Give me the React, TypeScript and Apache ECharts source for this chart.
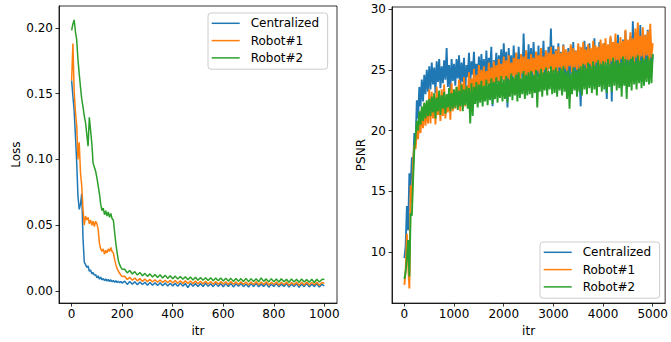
import React, { useEffect, useRef } from "react";
import * as echarts from "echarts";

function range(start: number, end: number, step: number): number[] {
  const a: number[] = [];
  for (let v = start; v <= end; v += step) a.push(v);
  return a;
}

// sampling grids (iteration numbers)
const lossItr = [...range(0, 200, 5), ...range(210, 1000, 10)];
const psnrItr = range(0, 5000, 25);

const seriesNames = ["Centralized", "Robot#1", "Robot#2"];
const colors = ["#1f77b4", "#ff7f0e", "#2ca02c"];

const lossTicks = [0, 0.05, 0.1, 0.15, 0.2];
const lossItrTicks = [0, 200, 400, 600, 800, 1000];
const psnrTicks = [10, 15, 20, 25, 30];
const psnrItrTicks = [0, 1000, 2000, 3000, 4000, 5000];

const lossCentralized = [
  0.160, 0.148, 0.137, 0.118, 0.098, 0.072, 0.062, 0.066, 0.074, 0.040,
  0.022, 0.020, 0.018, 0.019, 0.015, 0.016, 0.013, 0.014, 0.012, 0.0125,
  0.010, 0.0115, 0.0090, 0.0105, 0.0085, 0.0095, 0.0078, 0.0092, 0.0076, 0.0088,
  0.0072, 0.0085, 0.0070, 0.0080, 0.0066, 0.0078, 0.0064, 0.0075, 0.0062, 0.0072,
  0.0060,
  0.0075, 0.0050, 0.0072, 0.0052, 0.0070, 0.0047, 0.0068, 0.0049, 0.0066, 0.0044,
  0.0064, 0.0043, 0.0063, 0.0041, 0.0062, 0.0040, 0.0060, 0.0038, 0.0059, 0.0039,
  0.0058, 0.0036, 0.0060, 0.0037, 0.0057, 0.0026, 0.0058, 0.0036, 0.0056, 0.0035,
  0.0057, 0.0034, 0.0059, 0.0036, 0.0055, 0.0033, 0.0058, 0.0035, 0.0056, 0.0032,
  0.0056, 0.0034, 0.0058, 0.0031, 0.0055, 0.0036, 0.0057, 0.0033, 0.0054, 0.0030,
  0.0056, 0.0034, 0.0058, 0.0032, 0.0054, 0.0035, 0.0057, 0.0029, 0.0053, 0.0034,
  0.0057, 0.0032, 0.0054, 0.0035, 0.0056, 0.0030, 0.0053, 0.0034, 0.0055, 0.0028,
  0.0054, 0.0033, 0.0057, 0.0031, 0.0053, 0.0035, 0.0055, 0.0030, 0.0052, 0.0038,
];

const lossRobot1 = [
  0.160, 0.188, 0.152, 0.136, 0.126, 0.100, 0.113, 0.090, 0.080, 0.062,
  0.050, 0.057, 0.054, 0.056, 0.051, 0.054, 0.050, 0.053, 0.049, 0.053,
  0.051, 0.047, 0.036, 0.032, 0.030, 0.032, 0.028, 0.031, 0.029, 0.032,
  0.030, 0.033, 0.030, 0.029, 0.024, 0.020, 0.017, 0.015, 0.0135, 0.012,
  0.011,
  0.0112, 0.0088, 0.0104, 0.0082, 0.0099, 0.0077, 0.0094, 0.0073, 0.0091, 0.0071,
  0.0088, 0.0068, 0.0086, 0.0066, 0.0084, 0.0064, 0.0082, 0.0062, 0.0081, 0.0061,
  0.0080, 0.0059, 0.0078, 0.0058, 0.0077, 0.0057, 0.0076, 0.0056, 0.0075, 0.0055,
  0.0074, 0.0054, 0.0073, 0.0053, 0.0072, 0.0052, 0.0073, 0.0051, 0.0071, 0.0052,
  0.0070, 0.0050, 0.0072, 0.0051, 0.0069, 0.0049, 0.0071, 0.0050, 0.0068, 0.0048,
  0.0069, 0.0049, 0.0071, 0.0047, 0.0068, 0.0050, 0.0070, 0.0046, 0.0067, 0.0049,
  0.0069, 0.0045, 0.0066, 0.0048, 0.0068, 0.0044, 0.0065, 0.0047, 0.0067, 0.0043,
  0.0066, 0.0046, 0.0068, 0.0045, 0.0065, 0.0047, 0.0067, 0.0044, 0.0064, 0.0058,
];

const lossRobot2 = [
  0.198, 0.203, 0.206, 0.197, 0.191, 0.176, 0.165, 0.155, 0.146, 0.140,
  0.133, 0.128, 0.119, 0.110, 0.132, 0.122, 0.112, 0.097, 0.094, 0.091,
  0.086, 0.080, 0.074, 0.066, 0.061, 0.063, 0.058, 0.061, 0.057, 0.060,
  0.056, 0.059, 0.055, 0.054, 0.045, 0.036, 0.029, 0.023, 0.020, 0.018,
  0.0165,
  0.0165, 0.0138, 0.0156, 0.0129, 0.0147, 0.0121, 0.0140, 0.0116, 0.0134, 0.0111,
  0.0130, 0.0106, 0.0126, 0.0102, 0.0123, 0.0099, 0.0119, 0.0096, 0.0116, 0.0093,
  0.0113, 0.0091, 0.0110, 0.0089, 0.0108, 0.0086, 0.0106, 0.0084, 0.0104, 0.0082,
  0.0103, 0.0081, 0.0101, 0.0079, 0.0100, 0.0078, 0.0099, 0.0077, 0.0098, 0.0076,
  0.0097, 0.0075, 0.0096, 0.0073, 0.0095, 0.0074, 0.0094, 0.0072, 0.0096, 0.0071,
  0.0094, 0.0072, 0.0093, 0.0070, 0.0100, 0.0073, 0.0092, 0.0069, 0.0094, 0.0071,
  0.0091, 0.0068, 0.0093, 0.0070, 0.0090, 0.0067, 0.0092, 0.0069, 0.0089, 0.0066,
  0.0091, 0.0068, 0.0088, 0.0067, 0.0090, 0.0065, 0.0089, 0.0068, 0.0087, 0.0090,
];

const psnrCentralized = [
  9.5, 10.5, 13.8, 11.8, 16.5, 15.2, 17.8, 17.0, 19.8, 19.0,
  22.5, 21.0, 23.6, 22.0, 24.2, 22.4, 24.6, 23.0, 25.0, 23.2, 25.3,
  23.4, 25.6, 23.8, 25.2, 23.1, 25.7, 24.0, 25.9, 23.5, 25.3, 23.9, 25.8, 24.2, 26.8, 23.6, 25.4, 23.3, 25.9, 24.1, 25.5,
  23.7, 25.9, 24.3, 26.2, 23.5, 25.6, 24.0, 26.0, 23.2, 25.4, 24.4, 26.4, 23.8, 25.7, 24.6, 26.5, 23.9, 25.5, 24.2, 26.1,
  24.1, 26.3, 24.5, 25.9, 23.6, 26.6, 24.3, 26.0, 24.8, 26.9, 22.0, 25.8, 24.6, 26.4, 24.0, 26.2, 24.9, 26.7, 24.2, 27.2,
  24.4, 26.5, 21.9, 26.8, 24.6, 26.2, 24.0, 27.0, 24.8, 26.4, 23.9, 26.9, 25.0, 26.3, 24.3, 28.0, 24.7, 26.6, 24.1, 27.1,
  24.6, 26.8, 24.2, 27.3, 25.0, 26.5, 24.4, 27.0, 23.8, 26.7, 24.9, 27.4, 24.5, 26.6, 24.0, 26.9, 25.1, 28.4, 24.3, 27.0,
  24.8, 26.7, 24.1, 27.2, 24.6, 26.5, 23.9, 27.1, 24.4, 26.3, 23.5, 26.8, 24.0, 26.9, 24.6, 27.3, 23.8, 26.6, 24.2, 27.0,
  24.5, 22.0, 26.8, 24.3, 27.4, 24.8, 26.9, 23.9, 27.2, 24.6, 26.5, 25.0, 27.6, 24.2, 26.8, 24.7, 27.3, 23.8, 26.9, 24.5,
  27.2, 24.9, 22.6, 27.0, 24.4, 27.6, 22.4, 26.8, 25.1, 27.4, 24.6, 27.9, 25.0, 26.9, 24.3, 27.5, 24.8, 28.2, 25.2, 27.1,
  24.6, 27.8, 25.0, 29.0, 24.4, 28.1, 25.3, 27.6, 24.1, 28.7, 25.2, 27.4, 24.0, 27.9, 25.4, 28.3, 24.7, 27.6, 24.9, 26.3,
];

const psnrRobot1 = [
  7.3, 8.5, 11.5, 9.0, 7.0, 15.5, 14.0, 17.5, 18.8, 18.5,
  20.0, 19.3, 21.2, 19.8, 21.8, 20.2, 22.3, 20.4, 22.0, 20.6, 23.4,
  20.6, 23.2, 21.0, 22.8, 20.5, 23.6, 21.3, 22.9, 20.8, 23.4, 21.2, 23.8, 21.0, 22.7, 21.5, 23.5, 20.9, 23.9, 21.6, 23.3,
  21.8, 23.6, 22.1, 24.2, 21.6, 23.9, 22.4, 24.4, 22.0, 23.7, 22.7, 24.8, 22.5, 24.3, 23.0, 25.1, 22.8, 24.6, 23.3, 25.4,
  23.1, 25.0, 23.5, 25.3, 23.2, 24.9, 23.8, 25.6, 23.4, 25.2, 23.9, 25.7, 23.6, 25.4, 24.1, 25.9, 23.8, 25.5, 24.2, 26.1,
  24.0, 25.8, 24.3, 26.2, 23.9, 25.6, 24.5, 26.0, 24.2, 26.4, 24.6, 25.9, 24.1, 26.3, 24.7, 26.1, 24.3, 26.6, 24.5, 25.9,
  24.4, 26.3, 24.8, 26.0, 24.3, 26.5, 24.9, 26.2, 24.6, 26.8, 24.4, 26.1, 25.0, 26.6, 24.7, 26.4, 25.1, 26.9, 24.6, 26.3,
  24.9, 26.6, 24.7, 26.9, 25.2, 26.4, 24.8, 27.0, 25.1, 26.7, 24.9, 26.5, 25.3, 27.1, 24.8, 26.8, 25.2, 26.6, 25.0, 27.2,
  25.1, 26.9, 24.8, 27.3, 25.4, 26.7, 25.0, 27.1, 25.5, 26.8, 24.9, 27.4, 25.3, 27.0, 25.6, 26.9, 25.2, 27.5, 25.4, 27.2,
  25.3, 27.6, 25.6, 27.1, 25.2, 27.8, 25.7, 27.3, 25.4, 28.0, 25.8, 27.2, 25.5, 27.7, 25.9, 27.4, 25.6, 28.3, 25.8, 27.5,
  25.7, 28.1, 25.9, 27.6, 25.5, 28.4, 26.0, 28.9, 25.6, 27.8, 26.1, 28.5, 25.8, 27.9, 26.2, 28.2, 25.7, 28.8, 26.0, 27.2,
];

const psnrRobot2 = [
  7.8, 8.4, 9.5, 11.0, 8.0, 13.2, 13.0, 16.0, 18.5, 19.5,
  20.8, 20.0, 21.6, 20.5, 22.0, 20.8, 22.3, 21.0, 22.5, 21.2, 22.6,
  21.2, 22.8, 21.5, 23.1, 21.0, 22.7, 21.6, 23.3, 21.3, 22.9, 21.8, 23.2, 21.4, 23.0, 21.9, 23.5, 21.6, 23.1, 21.8, 23.4,
  21.9, 23.6, 21.7, 23.3, 22.0, 23.8, 21.6, 23.4, 22.1, 23.7, 21.8, 23.5, 20.6, 23.9, 21.2, 23.6, 22.2, 24.0, 21.9, 23.8,
  22.3, 24.1, 22.0, 23.7, 22.4, 24.2, 22.1, 23.9, 22.5, 24.3, 22.2, 24.0, 22.6, 24.4, 22.3, 24.1, 22.7, 24.5, 22.4, 24.2,
  22.6, 24.5, 22.3, 24.2, 22.8, 24.7, 22.5, 24.4, 22.9, 24.6, 22.4, 24.8, 22.7, 24.3, 23.0, 24.9, 22.6, 24.6, 22.9, 24.8,
  23.0, 24.9, 22.7, 24.6, 23.1, 25.0, 21.9, 24.7, 23.2, 25.1, 22.8, 24.8, 23.3, 25.2, 22.9, 24.9, 23.4, 25.3, 23.0, 25.0,
  23.1, 25.2, 22.8, 24.9, 23.3, 25.1, 22.9, 25.3, 23.2, 24.8, 22.6, 25.0, 21.8, 24.7, 23.0, 25.2, 23.3, 24.9, 22.8, 25.1,
  23.2, 25.3, 22.9, 25.5, 23.4, 25.2, 23.0, 25.6, 23.5, 25.3, 23.1, 25.7, 23.4, 25.4, 22.9, 25.8, 23.6, 25.5, 23.2, 25.7,
  23.4, 25.6, 23.1, 25.9, 23.6, 25.5, 23.2, 26.0, 23.7, 25.7, 23.3, 25.8, 23.5, 25.6, 22.8, 26.1, 23.7, 25.9, 22.6, 25.8,
  23.6, 25.9, 23.3, 26.1, 23.8, 25.7, 23.4, 26.2, 23.9, 25.8, 23.5, 26.0, 23.7, 25.9, 24.0, 26.1, 23.8, 25.9, 23.9, 26.3,
];

const FONT = "DejaVu Sans";

function pair(xs: number[], ys: number[]) {
  return xs.map((x, i) => [x, ys[i]]);
}

function axisCommon(ticks: number[], margin: number, fmt: (v: number) => string) {
  return {
    type: "value",
    axisLine: { show: true, onZero: false, lineStyle: { color: "#000", width: 0.8 } },
    axisTick: { show: true, length: 3.5, customValues: ticks, lineStyle: { color: "#000", width: 0.8 } },
    axisLabel: {
      customValues: ticks,
      fontSize: 12,
      fontFamily: FONT,
      color: "#000",
      margin,
      formatter: (v: number) => fmt(v),
    },
    splitLine: { show: false },
    nameTextStyle: { fontSize: 12, fontFamily: FONT, color: "#000" },
    nameLocation: "middle",
  };
}

function legendCfg(left: number, top: number) {
  return {
    left,
    top,
    orient: "vertical",
    data: seriesNames,
    icon: "path://M0,0 L28,0 L28,1.5 L0,1.5 Z",
    symbolKeepAspect: true,
    itemWidth: 28,
    itemHeight: 14,
    itemGap: 5.3,
    padding: [4.3, 8.6, 5.3, 3.7],
    backgroundColor: "rgba(255,255,255,0.8)",
    borderColor: "#cccccc",
    borderWidth: 1,
    borderRadius: 3,
    textStyle: { fontSize: 12, fontFamily: FONT, color: "#000", padding: [0, 0, 0, 6] },
  };
}

export default function App() {
  const ref = useRef<HTMLDivElement>(null);
  useEffect(() => {
    if (!ref.current) return;
    const chart = echarts.init(ref.current, null, { renderer: "svg" });
    const lossData = [lossCentralized, lossRobot1, lossRobot2];
    const psnrData = [psnrCentralized, psnrRobot1, psnrRobot2];
    const series: any[] = [];
    const mk = (name: string, i: number, axis: number, data: number[][], w: number) => ({
      name,
      type: "line",
      xAxisIndex: axis,
      yAxisIndex: axis,
      data,
      symbol: "none",
      showSymbol: false,
      lineStyle: { width: w, color: colors[i] },
      itemStyle: { color: colors[i] },
    });
    seriesNames.forEach((name, i) => series.push(mk(name, i, 0, pair(lossItr, lossData[i]), 1.5)));
    seriesNames.forEach((name, i) => series.push(mk(name, i, 1, pair(psnrItr, psnrData[i]), 1.9)));
    const str = (v: number) => String(v);
    chart.setOption({
      animation: false,
      backgroundColor: "#fff",
      textStyle: { fontFamily: FONT },
      grid: [
        { left: 59, top: 6, width: 278, height: 303, show: true, borderColor: "#000", borderWidth: 0.8 },
        { left: 392, top: 7, width: 278, height: 303, show: true, borderColor: "#000", borderWidth: 0.8 },
      ],
      xAxis: [
        { ...axisCommon(lossItrTicks, 5, str), gridIndex: 0, min: -50, max: 1050, name: "itr", nameGap: 20 },
        { ...axisCommon(psnrItrTicks, 5, str), gridIndex: 1, min: -250, max: 5250, name: "itr", nameGap: 20 },
      ],
      yAxis: [
        {
          ...axisCommon(lossTicks, 6, (v) => v.toFixed(2)),
          gridIndex: 0,
          min: -0.0092,
          max: 0.2166,
          name: "Loss",
          nameGap: 30,
        },
        { ...axisCommon(psnrTicks, 6, str), gridIndex: 1, min: 5.8, max: 30.18, name: "PSNR", nameGap: 24 },
      ],
      legend: [legendCfg(208, 13), legendCfg(540, 242)],
      series,
    });
    return () => chart.dispose();
  }, []);
  return (
    <div
      ref={ref}
      style={{ position: "fixed", left: 0, top: 0, width: 671, height: 342, background: "#fff" }}
    />
  );
}
